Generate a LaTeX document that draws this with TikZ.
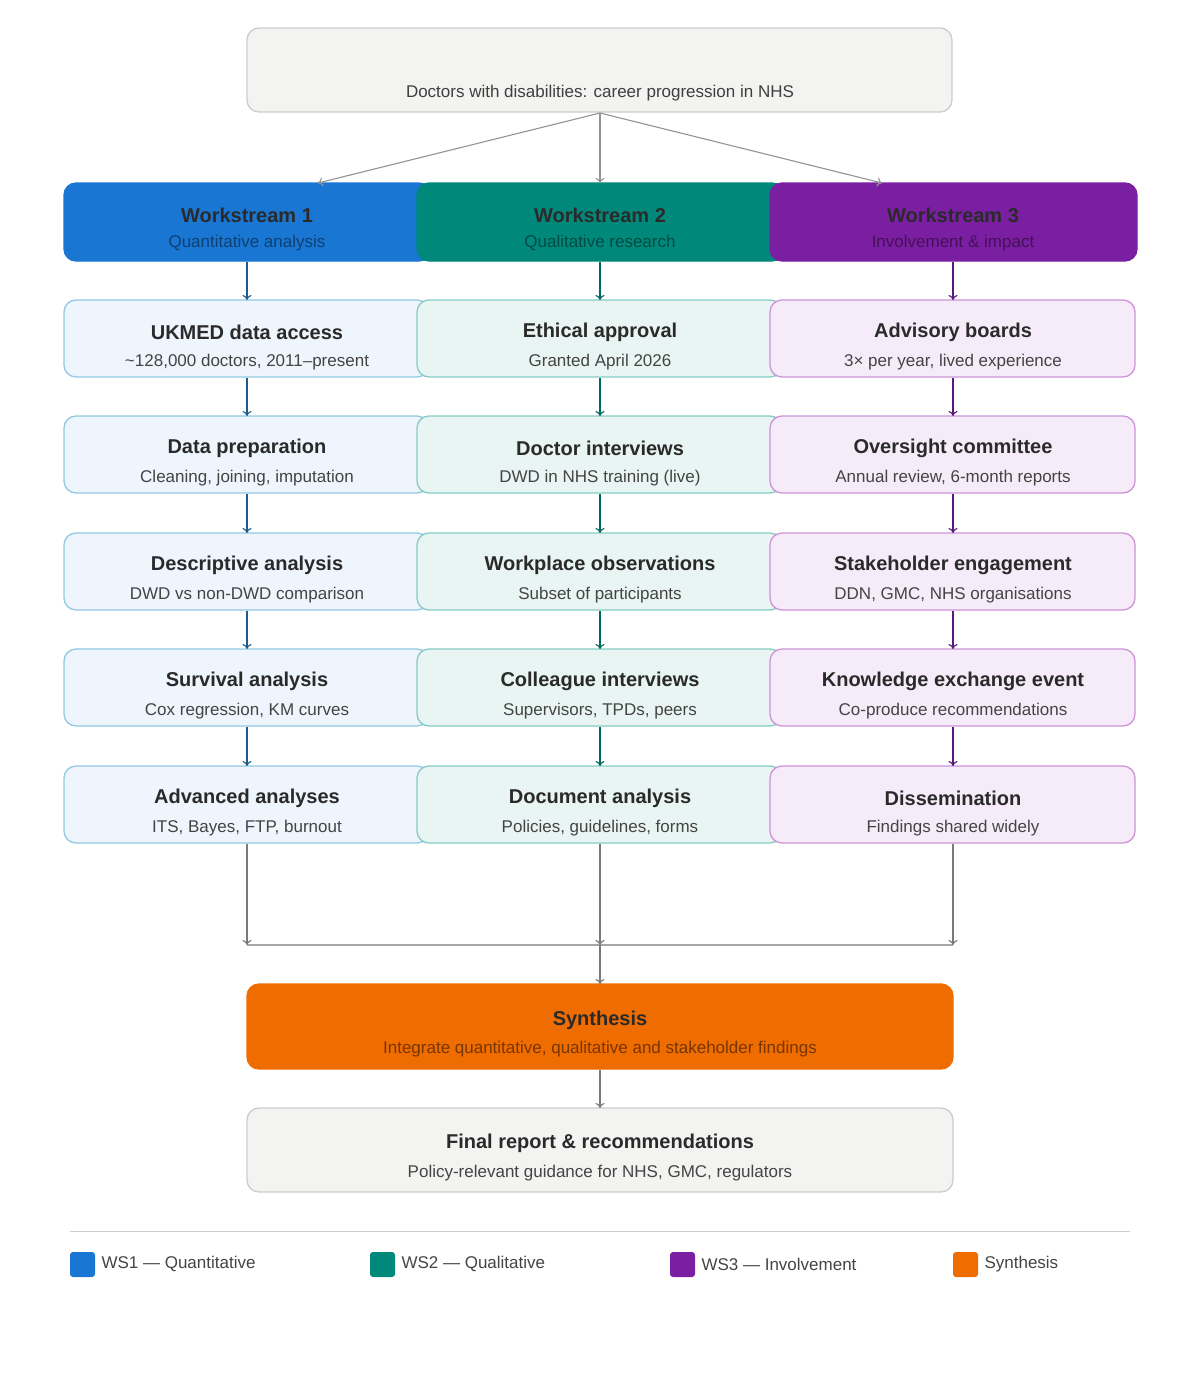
\documentclass[tikz,border=0pt]{standalone}
\usepackage{fontspec}
\setmainfont{Liberation Sans}
\usetikzlibrary{arrows.meta}
\definecolor{wsA}{HTML}{1976D2}\definecolor{wsB}{HTML}{00897B}\definecolor{wsC}{HTML}{7B1FA2}\definecolor{syn}{HTML}{EF6C00}
\definecolor{lA}{HTML}{EEF5FD}\definecolor{lB}{HTML}{E8F5F2}\definecolor{lC}{HTML}{F6ECF9}
\definecolor{bA}{HTML}{92C8E4}\definecolor{bB}{HTML}{86CCC4}\definecolor{bC}{HTML}{CE93D8}
\definecolor{aA}{HTML}{1F5A8C}\definecolor{aB}{HTML}{00695C}\definecolor{aC}{HTML}{5A1A7A}
\definecolor{txt}{HTML}{2A2A2A}\definecolor{sub}{HTML}{444444}\definecolor{gr}{HTML}{F3F3F2}\definecolor{grb}{HTML}{CCCCCC}
\begin{document}
\begin{tikzpicture}[x=1pt,y=-1pt,
 box/.style={rounded corners=12pt,line width=1.3pt},
 ttl/.style={font=\fontsize{20}{24}\selectfont\bfseries,text=txt},
 st/.style={font=\fontsize{17}{20}\selectfont,text=sub},
 arr/.style={-{To[length=5pt,width=9pt]},line width=1.1pt},
 garr/.style={arr,draw=gray!85}]
\useasboundingbox (0,0) rectangle (1200,1376);
% top
\draw[box,fill=gr,draw=grb] (247,28) rectangle (952,112);
\node[st,text=txt!90] (top) at (600,93) {Doctors with disabilities: career progression in NHS};
\coordinate (tb) at (600,113);
% headers
\def\hdr#1#2#3#4#5{\draw[box,fill=#2,draw=#2] (#1-183,183) rectangle (#1+184,261);
 \node[ttl] (h#5) at (#1,215) {#3}; \node[st,text=#2!55!black] (hs#5) at (#1,243) {#4};
 \coordinate (hb#5) at (#1,262);}
\hdr{247}{wsA}{Workstream 1}{Quantitative analysis}{1}
\hdr{600}{wsB}{Workstream 2}{Qualitative research}{2}
\hdr{953}{wsC}{Workstream 3}{Involvement \& impact}{3}
\coordinate (t1) at (318,183);\coordinate (t2) at (600,183);\coordinate (t3) at (882,183);
\foreach \i in {1,2,3} \draw[garr] (tb) -- (t\i);
% rows
\def\cell#1#2#3#4#5#6#7{\draw[box,fill=#2,draw=#3] (#1-183,#4) rectangle (#1+182,#4+77);
 \node[ttl] (c#7) at (#1,#4+32) {#5}; \node[st] (cs#7) at (#1,#4+62) {#6};
 \coordinate (ct#7) at (#1,#4); \coordinate (cb#7) at (#1,#4+78);}
\foreach \y/\a/\b/\c/\d/\e/\f/\k in {
300/UKMED data access/{\textasciitilde128,000 doctors, 2011–present}/Ethical approval/Granted April 2026/Advisory boards/{3× per year, lived experience}/1,
416/Data preparation/{Cleaning, joining, imputation}/Doctor interviews/DWD in NHS training (live)/Oversight committee/{Annual review, 6-month reports}/2,
533/Descriptive analysis/DWD vs non-DWD comparison/Workplace observations/Subset of participants/Stakeholder engagement/{DDN, GMC, NHS organisations}/3,
649/Survival analysis/{Cox regression, KM curves}/Colleague interviews/{Supervisors, TPDs, peers}/Knowledge exchange event/Co-produce recommendations/4,
766/Advanced analyses/{ITS, Bayes, FTP, burnout}/Document analysis/{Policies, guidelines, forms}/Dissemination/Findings shared widely/5}{
 \cell{247}{lA}{bA}{\y}{\a}{\b}{A\k}
 \cell{600}{lB}{bB}{\y}{\c}{\d}{B\k}
 \cell{953}{lC}{bC}{\y}{\e}{\f}{C\k}}
\draw[arr,aA] (hb1) -- (ctA1); \draw[arr,aB] (hb2) -- (ctB1); \draw[arr,aC] (hb3) -- (ctC1);
\foreach \i/\j in {1/2,2/3,3/4,4/5}{
 \draw[arr,aA] (cbA\i) -- (ctA\j); \draw[arr,aB] (cbB\i) -- (ctB\j); \draw[arr,aC] (cbC\i) -- (ctC\j);}
% merge
\coordinate (m1) at (247,945);\coordinate (m2) at (600,945);\coordinate (m3) at (953,945);
\draw[line width=1.1pt,gray!70] (m1) -- (m3);
\draw[garr,draw=gray!95!black] (cbA5) -- (m1); \draw[garr,draw=gray!95!black] (cbB5) -- (m2); \draw[garr,draw=gray!95!black] (cbC5) -- (m3);
% synthesis
\draw[box,fill=syn,draw=syn] (247,984) rectangle (953,1069);
\node[ttl] (syn) at (600,1020) {Synthesis};
\node[st,text=syn!50!black] (syns) at (600,1049) {Integrate quantitative, qualitative and stakeholder findings};
\coordinate (st) at (600,984);\coordinate (sb) at (600,1070);
\draw[garr,draw=gray!95!black] (m2) -- (st);
\draw[box,fill=gr,draw=grb] (247,1108) rectangle (953,1192);
\node[ttl] (fin) at (600,1143) {Final report \& recommendations};
\node[st] (fins) at (600,1173) {Policy-relevant guidance for NHS, GMC, regulators};
\coordinate (ft) at (600,1108);
\draw[garr,draw=gray!95!black] (sb) -- (ft);
% legend
\draw[line width=1pt,grb] (70,1231) -- (1130,1231);
\foreach \x/\c/\t/\n in {70/wsA/WS1 — Quantitative/1,370/wsB/WS2 — Qualitative/2,670/wsC/WS3 — Involvement/3,953/syn/Synthesis/4}{
 \fill[\c,rounded corners=3pt] (\x,1252) rectangle (\x+25,1277);
 \node[st,anchor=west] (lg\n) at (\x+28,1264) {\t};}
\end{tikzpicture}
\end{document}
